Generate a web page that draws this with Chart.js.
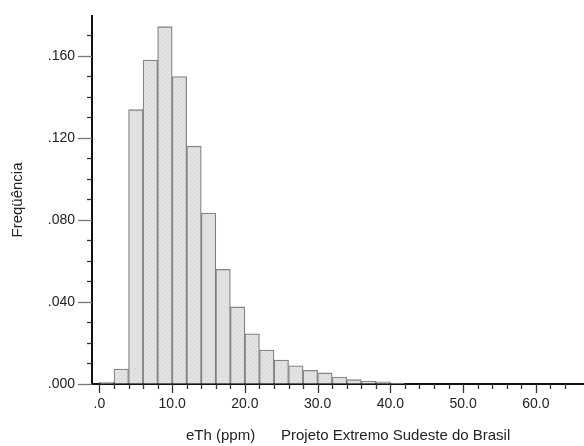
<!DOCTYPE html>
<html>
<head>
<meta charset="utf-8">
<script src="https://cdn.jsdelivr.net/npm/chart.js@4.4.1/dist/chart.umd.min.js"></script>
<style>
  html, body { margin: 0; padding: 0; background: #fff; }
  #wrap { width: 584px; height: 446px; }
</style>
</head>
<body>
<div id="wrap"><canvas id="histo"></canvas></div>
<script>
// eTh histogram, 2 ppm classes
const binCenters = [1, 3, 5, 7, 9, 11, 13, 15, 17, 19, 21, 23, 25, 27, 29, 31, 33, 35, 37, 39, 41];
const frequencia = [0.0008, 0.0073, 0.1338, 0.1580, 0.1743, 0.1500, 0.1160, 0.0834, 0.0559, 0.0376,
                    0.0245, 0.0166, 0.0117, 0.0089, 0.0067, 0.0054, 0.0034, 0.0021, 0.0014, 0.0010, 0.0005];
const xLabelsEvery = 10;
const yLabelsEvery = 0.04;
const xTitle = 'eTh (ppm)';
const sourceNote = 'Projeto Extremo Sudeste do Brasil';
const yTitle = 'Freqüência';

const FONT = '"Liberation Sans", Arial, sans-serif';

// light grey fill with a fine diagonal hatch
function hatchPattern() {
    const c = document.createElement('canvas');
    c.width = 4; c.height = 4;
    const g = c.getContext('2d');
    g.fillStyle = '#e3e3e3';
    g.fillRect(0, 0, 4, 4);
    g.fillStyle = '#d8d8d8';
    for (let i = 0; i < 4; i++) g.fillRect(i, 3 - i, 1, 1);
    return g.createPattern(c, 'repeat');
}

// short minor ticks, longer major ones
const tickMarks = {
    id: 'tickMarks',
    afterDraw(chart) {
        const ctx = chart.ctx;
        const xs = chart.scales.x, ys = chart.scales.y;
        const area = chart.chartArea;
        ctx.save();
        ctx.lineWidth = 1.3;
        xs.ticks.forEach(t => {
            const px = Math.round(xs.getPixelForValue(t.value)) + 0.5;
            const major = Math.round(t.value) % xLabelsEvery === 0;
            ctx.strokeStyle = '#333';
            ctx.beginPath();
            ctx.moveTo(px, area.bottom);
            ctx.lineTo(px, area.bottom + (major ? 9 : 5));
            ctx.stroke();
        });
        ys.ticks.forEach(t => {
            const py = Math.round(ys.getPixelForValue(t.value)) + 0.5;
            const major = Math.round(t.value * 100) % Math.round(yLabelsEvery * 100) === 0;
            ctx.strokeStyle = major ? '#777' : '#333';
            ctx.beginPath();
            ctx.moveTo(area.left, py);
            ctx.lineTo(area.left - (major ? 14 : 5), py);
            ctx.stroke();
        });
        ctx.restore();
    }
};

// axis captions
const captions = {
    id: 'captions',
    afterDraw(chart) {
        const ctx = chart.ctx;
        const area = chart.chartArea;
        ctx.save();
        ctx.fillStyle = '#222';
        ctx.font = '15px ' + FONT;
        ctx.textBaseline = 'middle';
        ctx.textAlign = 'left';
        ctx.fillText(xTitle, 186, 436);
        ctx.fillText(sourceNote, 281, 436);
        ctx.translate(18, (area.top + area.bottom) / 2);
        ctx.rotate(-Math.PI / 2);
        ctx.textAlign = 'center';
        ctx.fillText(yTitle, 0, 0);
        ctx.restore();
    }
};

new Chart(document.getElementById('histo'), {
    type: 'bar',
    data: {
        datasets: [{
            data: binCenters.map((c, i) => ({ x: c, y: frequencia[i] })),
            backgroundColor: hatchPattern(),
            borderColor: '#858585',
            borderWidth: 1.3,
            borderSkipped: 'bottom',
            barPercentage: 1,
            categoryPercentage: 1
        }]
    },
    plugins: [tickMarks, captions],
    options: {
        responsive: true,
        maintainAspectRatio: false,
        animation: false,
        layout: { padding: { top: 16, right: 0, left: 0, bottom: 0 } },
        plugins: { legend: { display: false }, tooltip: { enabled: false } },
        scales: {
            x: {
                type: 'linear',
                min: 0,
                max: 65.6,
                afterFit: s => { s.height = 62; },
                border: { display: true, color: '#111', width: 2 },
                grid: { drawOnChartArea: false, tickLength: 9, tickColor: 'transparent' },
                ticks: {
                    stepSize: 2,
                    includeBounds: false,
                    autoSkip: false,
                    maxRotation: 0,
                    padding: 3,
                    color: '#222',
                    font: { family: FONT, size: 14 },
                    callback: v => {
                        const n = Math.round(v);
                        if (n % xLabelsEvery !== 0) return '';
                        return n === 0 ? '.0' : n.toFixed(1);
                    }
                }
            },
            y: {
                min: 0,
                max: 0.1795,
                afterFit: s => { s.width = 92; },
                border: { display: true, color: '#111', width: 2 },
                grid: { drawOnChartArea: false, tickLength: 13, tickColor: 'transparent' },
                ticks: {
                    stepSize: 0.01,
                    includeBounds: false,
                    autoSkip: false,
                    padding: 4,
                    color: '#222',
                    font: { family: FONT, size: 14 },
                    callback: v => {
                        const n = Math.round(v * 100);
                        if (n % Math.round(yLabelsEvery * 100) !== 0) return '';
                        return '.' + (n / 100).toFixed(3).split('.')[1];
                    }
                }
            }
        }
    }
});
</script>
</body>
</html>
